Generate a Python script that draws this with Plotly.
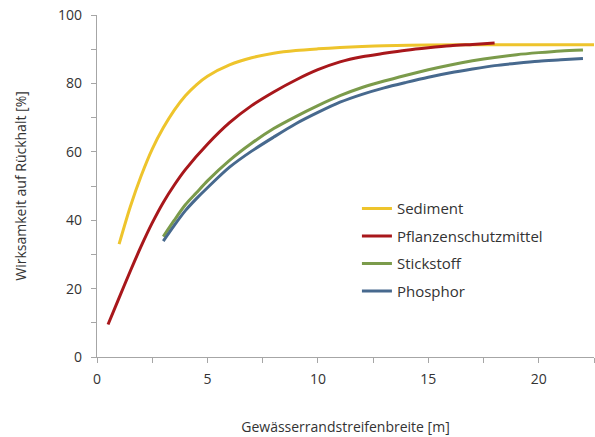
import plotly.graph_objects as go

# Data (x: buffer width in m, y: effectiveness in %)
sed_x = [1.0, 1.5, 2.0, 2.5, 3.0, 3.5, 4.0, 4.5, 5.0, 6.0, 7.0, 8.0, 9.0, 10.0, 11.0, 12.0, 13.0, 15.0, 18.0, 22.5]
sed_y = [33.0, 43.8, 53.0, 60.8, 67.0, 72.2, 76.4, 79.6, 82.1, 85.4, 87.5, 88.8, 89.6, 90.1, 90.5, 90.8, 91.0, 91.2, 91.3, 91.3]

psm_x = [0.5, 1.0, 1.5, 2.0, 2.5, 3.0, 3.5, 4.0, 5.0, 6.0, 7.0, 8.0, 9.0, 10.0, 11.0, 12.0, 13.0, 14.0, 15.0, 16.0, 17.0, 18.0]
psm_y = [9.5, 17.3, 25.0, 32.4, 39.2, 45.2, 50.3, 54.8, 62.2, 68.5, 73.5, 77.5, 81.0, 84.0, 86.3, 87.8, 88.8, 89.7, 90.4, 91.0, 91.4, 91.8]

n_x = [3.0, 3.5, 4.0, 4.5, 5.0, 6.0, 7.0, 8.0, 9.0, 10.0, 11.0, 12.0, 13.0, 14.0, 15.0, 16.0, 17.0, 18.0, 19.0, 20.0, 21.0, 22.0]
n_y = [35.2, 40.0, 44.5, 48.0, 51.5, 57.5, 62.5, 66.8, 70.3, 73.5, 76.4, 78.8, 80.7, 82.4, 84.0, 85.4, 86.6, 87.6, 88.4, 89.0, 89.5, 89.8]

p_x = [3.0, 3.5, 4.0, 4.5, 5.0, 6.0, 7.0, 8.0, 9.0, 10.0, 11.0, 12.0, 13.0, 14.0, 15.0, 16.0, 17.0, 18.0, 19.0, 20.0, 21.0, 22.0]
p_y = [33.9, 38.5, 42.8, 46.3, 49.5, 55.5, 60.2, 64.3, 68.2, 71.5, 74.5, 76.8, 78.7, 80.3, 81.8, 83.1, 84.2, 85.2, 85.9, 86.5, 86.9, 87.3]

names = ["Sediment", "Pflanzenschutzmittel", "Stickstoff", "Phosphor"]
colors = ["#EEC42C", "#A8171B", "#7B9B4B", "#47698E"]

series = [(sed_x, sed_y), (psm_x, psm_y), (n_x, n_y), (p_x, p_y)]

fig = go.Figure()
for (xs, ys), name, col in zip(series, names, colors):
    fig.add_trace(go.Scatter(
        x=xs, y=ys, name=name, mode="lines",
        line=dict(color=col, width=3, shape="spline", smoothing=0.8),
        legendgroup=name,
    ))

font_family = "'Open Sans', 'Noto Sans', sans-serif"
axis_col = "#A6A6A6"
txt_col = "#333333"

fig.update_layout(
    width=595, height=437,
    margin=dict(l=97, r=1, t=15, b=80),
    paper_bgcolor="white", plot_bgcolor="white",
    font=dict(family=font_family, size=13, color=txt_col),
    showlegend=True,
    legend=dict(
        x=0.523, y=0.482, xanchor="left", yanchor="top",
        bgcolor="rgba(0,0,0,0)", borderwidth=0,
        tracegroupgap=5,
        font=dict(size=15, color=txt_col),
    ),
    xaxis=dict(
        range=[0, 22.5], dtick=5, tick0=0, automargin=False,
        showgrid=False, zeroline=False,
        showline=True, linecolor=axis_col, linewidth=1.3,
        ticks="outside", ticklen=5, tickcolor=axis_col, tickwidth=1,
        ticklabelstandoff=4,
        minor=dict(dtick=2.5, ticks="outside", ticklen=5, tickcolor=axis_col, showgrid=False),
        tickfont=dict(size=14, color=txt_col),
        title=dict(text="Gewässerrandstreifenbreite [m]", font=dict(size=14, color=txt_col), standoff=35),
    ),
    yaxis=dict(
        range=[0, 100], dtick=20, tick0=0, automargin=False,
        showgrid=False, zeroline=False,
        showline=True, linecolor=axis_col, linewidth=1.3,
        ticks="outside", ticklen=5, tickcolor=axis_col, tickwidth=1,
        ticklabelstandoff=6,
        minor=dict(dtick=10, ticks="outside", ticklen=5, tickcolor=axis_col, showgrid=False),
        tickfont=dict(size=14, color=txt_col),
        title=dict(text="Wirksamkeit auf Rückhalt [%]", font=dict(size=14, color=txt_col), standoff=28),
    ),
)

fig.write_html(
    "out.html",
    config={"displayModeBar": False},
    post_script="document.body.style.margin='0px';document.body.style.overflow='hidden';",
)
